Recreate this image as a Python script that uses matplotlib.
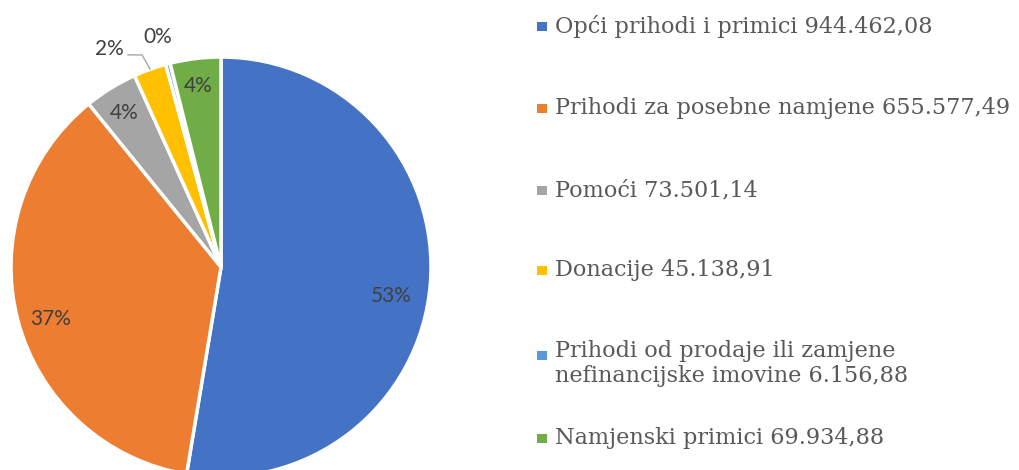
import matplotlib
matplotlib.use("Agg")
import matplotlib.pyplot as plt
from matplotlib.patches import Rectangle

categories = ["Opći prihodi i primici 944.462,08",
              "Prihodi za posebne namjene 655.577,49",
              "Pomoći 73.501,14",
              "Donacije 45.138,91",
              "Prihodi od prodaje ili zamjene\nnefinancijske imovine 6.156,88",
              "Namjenski primici 69.934,88"]
values = [944462.08, 655577.49, 73501.14, 45138.91, 6156.88, 69934.88]
pct_labels = ["53%", "37%", "4%", "2%", "0%", "4%"]
colors = ["#4472C4", "#ED7D31", "#A5A5A5", "#FFC000", "#5B9BD5", "#70AD47"]

W, H = 1020, 470
fig = plt.figure(figsize=(W / 100, H / 100), dpi=100)
cx, cy, R = 221, 267, 210
ax = fig.add_axes([(cx - R) / W, (H - cy - R) / H, 2 * R / W, 2 * R / H])

wedges, texts, autotexts = ax.pie(values, colors=colors, startangle=90, counterclock=False,
                                  radius=1, autopct="%1.0f%%", pctdistance=0.85,
                                  wedgeprops=dict(edgecolor="white", linewidth=2.5),
                                  textprops=dict(family="Lato", fontsize=15, color="#404040"))
ax.set_xlim(-1, 1)
ax.set_ylim(-1, 1)
ax.set_aspect("equal")
ax.axis("off")

label_pos = [(0.810, -0.138), (-0.810, -0.248), (-0.460, 0.731),
             (-0.533, 1.038), (-0.300, 1.093), (-0.107, 0.860)]
for t, p, s in zip(autotexts, label_pos, pct_labels):
    t.set_position(p)
    t.set_text(s)
    t.set_clip_on(False)
ax.plot([-0.443, -0.376, -0.338], [1.010, 1.010, 0.943], color="#A6A6A6", lw=1, clip_on=False)

# legend
rows = [26, 108, 190, 270, 355, 438]
for lab, col, y in zip(categories, colors, rows):
    fig.patches.append(Rectangle((537 / W, (H - y - 4.5) / H), 10 / W, 9 / H,
                                 transform=fig.transFigure, facecolor=col, edgecolor="none"))
    if "\n" in lab:
        fig.text(555 / W, (H - y + 15) / H, lab, family="DejaVu Serif", fontsize=16.1,
                 color="#595959", va="top", linespacing=1.15)
    else:
        fig.text(555 / W, (H - y) / H, lab, family="DejaVu Serif", fontsize=16.1,
                 color="#595959", va="center")

fig.savefig("out.png", dpi=100)
